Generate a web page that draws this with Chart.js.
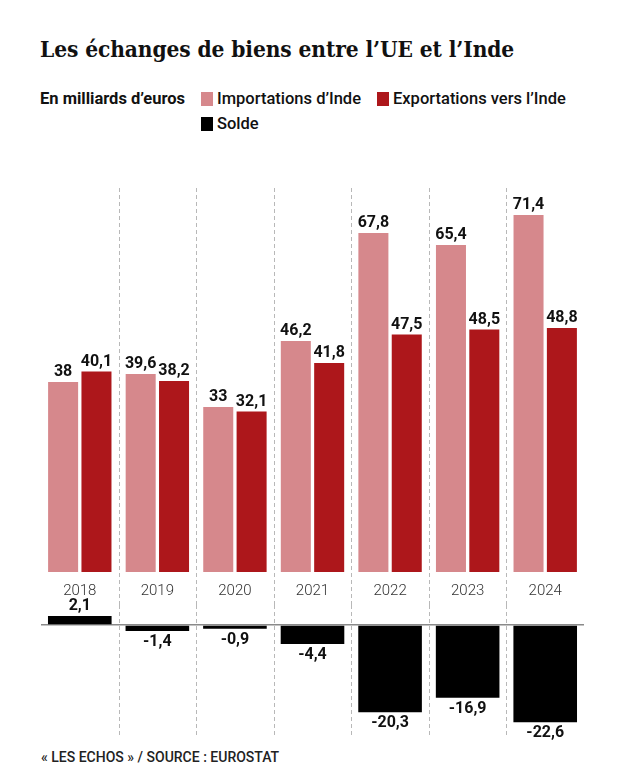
<!DOCTYPE html>
<html>
<head>
<meta charset="utf-8">
<script src="https://cdn.jsdelivr.net/npm/chart.js@4"></script>
<style>
  html, body { margin:0; padding:0; background:#fff; }
  body { width:620px; height:775px; position:relative; overflow:hidden; font-family: Roboto, "Noto Sans", sans-serif; color:#111; }
  #title { position:absolute; left:40px; top:36px; font-family:"DejaVu Serif Condensed", "DejaVu Serif", serif; font-stretch:condensed; font-weight:bold; font-size:22.5px; letter-spacing:-0.1px; color:#111; white-space:nowrap; }
  .leg { position:absolute; font-size:16.5px; white-space:nowrap; line-height:18px; }
  #unit { left:40px; top:90px; font-weight:700; }
  .item { font-weight:500; }
  .sw { display:inline-block; width:12px; height:14px; vertical-align:-2px; margin-right:4px; }
  #source { position:absolute; left:41px; top:749px; font-size:14px; font-weight:500; color:#222; white-space:nowrap; }
  #top { position:absolute; left:0; top:180px; }
  #bot { position:absolute; left:0; top:588px; }
</style>
</head>
<body>
<div id="title">Les échanges de biens entre l’UE et l’Inde</div>
<div class="leg" id="unit">En milliards d’euros</div>
<div class="leg item" style="left:201px;top:90px;"><span class="sw" style="background:#d6888c"></span>Importations d’Inde</div>
<div class="leg item" style="left:377px;top:90px;"><span class="sw" style="background:#ad171b"></span>Exportations vers l’Inde</div>
<div class="leg item" style="left:201px;top:115px;"><span class="sw" style="background:#000"></span>Solde</div>
<canvas id="top" width="620" height="425" style="width:620px;height:425px"></canvas>
<canvas id="bot" width="620" height="152" style="width:620px;height:152px"></canvas>
<div id="source">« LES ECHOS » / SOURCE : EUROSTAT</div>
<script>
const years = ["2018","2019","2020","2021","2022","2023","2024"];
const imports = [38, 39.6, 33, 46.2, 67.8, 65.4, 71.4];
const exports = [40.1, 38.2, 32.1, 41.8, 47.5, 48.5, 48.8];
const solde = [2.1, -1.4, -0.9, -4.4, -20.3, -16.9, -22.6];

const fmt = v => String(v).replace('.', ',');

const sepLines = {
  id: 'sepLines',
  beforeDatasetsDraw(chart, args, opts) {
    const x = chart.scales.x, ctx = chart.ctx;
    const top = chart.chartArea.top;
    const bottom = opts.part === 'top' ? chart.height : chart.chartArea.bottom;
    ctx.save();
    ctx.strokeStyle = '#b8b8b8';
    ctx.lineWidth = 1;
    ctx.setLineDash([4, 3]);
    for (let i = 0; i < years.length - 1; i++) {
      const px = Math.round((x.getPixelForValue(i) + x.getPixelForValue(i + 1)) / 2) + 0.5;
      ctx.beginPath();
      ctx.moveTo(px, top);
      ctx.lineTo(px, bottom);
      ctx.stroke();
    }
    ctx.restore();
  }
};

const valueLabels = {
  id: 'valueLabels',
  afterDatasetsDraw(chart) {
    const ctx = chart.ctx;
    ctx.save();
    ctx.font = 'bold 16px Roboto, sans-serif';
    ctx.fillStyle = '#111';
    ctx.textAlign = 'center';
    chart.data.datasets.forEach((ds, di) => {
      const meta = chart.getDatasetMeta(di);
      meta.data.forEach((bar, i) => {
        const v = ds.data[i];
        if (v >= 0) {
          ctx.textBaseline = 'bottom';
          ctx.fillText(fmt(v), bar.x, bar.y - 2);
        } else {
          ctx.textBaseline = 'top';
          ctx.fillText(fmt(v), bar.x, bar.y + 3);
        }
      });
    });
    ctx.restore();
  }
};

new Chart(document.getElementById('top'), {
  type: 'bar',
  data: {
    labels: years,
    datasets: [
      { label: 'Importations d’Inde', data: imports, backgroundColor: '#d6888c', categoryPercentage: 0.86, barPercentage: 0.9 },
      { label: 'Exportations vers l’Inde', data: exports, backgroundColor: '#ad171b', categoryPercentage: 0.86, barPercentage: 0.9 }
    ]
  },
  options: {
    responsive: false,
    animation: false,
    devicePixelRatio: 1,
    layout: { padding: { top: 8, left: 41, right: 36, bottom: 0 } },
    plugins: { legend: { display: false }, tooltip: { enabled: false }, sepLines: { part: 'top' } },
    scales: {
      x: {
        grid: { display: false, drawTicks: false },
        border: { display: false },
        ticks: { color: '#333', font: { family: 'Roboto', size: 15, weight: 300 }, padding: 10 },
        afterFit: s => { s.height = 33; }
      },
      y: {
        display: false,
        min: 0,
        max: 76.8
      }
    }
  },
  plugins: [sepLines, valueLabels]
});

new Chart(document.getElementById('bot'), {
  type: 'bar',
  data: {
    labels: years,
    datasets: [
      { label: 'Solde', data: solde, backgroundColor: '#000', categoryPercentage: 1, barPercentage: 0.82 }
    ]
  },
  options: {
    responsive: false,
    animation: false,
    devicePixelRatio: 1,
    layout: { padding: { top: 17, left: 41, right: 36, bottom: 3 } },
    plugins: { legend: { display: false }, tooltip: { enabled: false }, sepLines: { part: 'bottom' } },
    scales: {
      x: { display: false },
      y: {
        display: true,
        min: -26.05,
        max: 4.65,
        afterBuildTicks: s => { s.ticks = [{ value: 0 }]; },
        ticks: { display: false },
        border: { display: false },
        grid: { color: '#8a8a8a', lineWidth: 1.5, drawTicks: false },
        afterFit: s => { s.width = 0; }
      }
    }
  },
  plugins: [sepLines, valueLabels]
});
</script>
</body>
</html>
